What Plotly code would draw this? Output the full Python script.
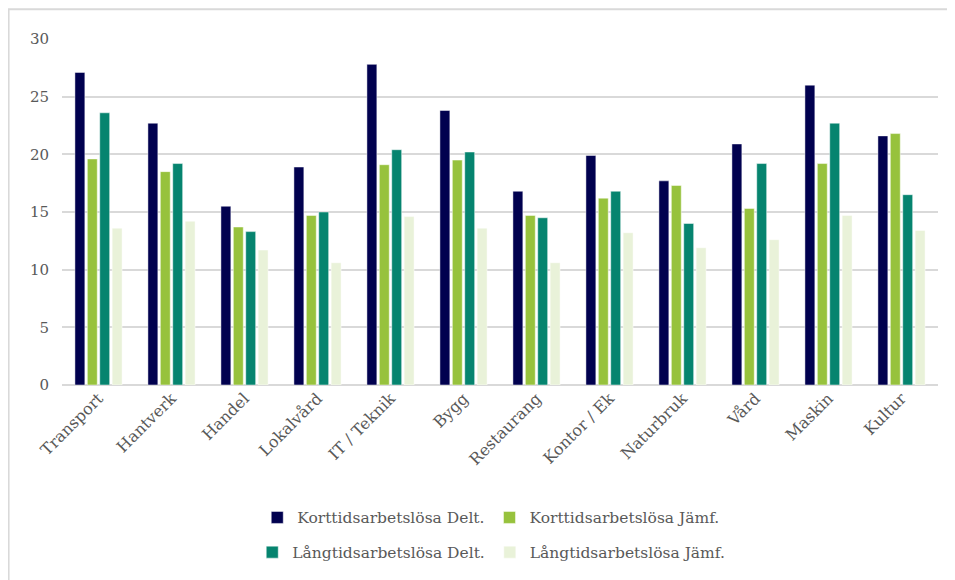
import plotly.graph_objects as go

categories = ["Transport", "Hantverk", "Handel", "Lokalvård", "IT / Teknik", "Bygg",
              "Restaurang", "Kontor / Ek", "Naturbruk", "Vård", "Maskin", "Kultur"]
kort_delt = [27.1, 22.7, 15.5, 18.9, 27.8, 23.8, 16.8, 19.9, 17.7, 20.9, 26.0, 21.6]
kort_jamf = [19.6, 18.5, 13.7, 14.7, 19.1, 19.5, 14.7, 16.2, 17.3, 15.3, 19.2, 21.8]
lang_delt = [23.6, 19.2, 13.3, 15.0, 20.4, 20.2, 14.5, 16.8, 14.0, 19.2, 22.7, 16.5]
lang_jamf = [13.6, 14.2, 11.7, 10.6, 14.6, 13.6, 10.6, 13.2, 11.9, 12.6, 14.7, 13.4]
y_ticks = [0, 5, 10, 15, 20, 25, 30]

series = [
    ("Korttidsarbetslösa Delt.", kort_delt, "#01014f", "legend"),
    ("Korttidsarbetslösa Jämf.", kort_jamf, "#97c23d", "legend"),
    ("Långtidsarbetslösa Delt.", lang_delt, "#06846f", "legend2"),
    ("Långtidsarbetslösa Jämf.", lang_jamf, "#e9f2d9", "legend2"),
]

FONT = "DejaVu Serif"
fig = go.Figure()
for name, vals, col, lg in series:
    fig.add_trace(go.Bar(
        x=categories, y=vals, name=name, legend=lg,
        marker=dict(color=col, line=dict(color="rgba(255,255,255,0.6)", width=0.8)),
    ))

fig.update_layout(
    width=947, height=572,
    paper_bgcolor="white", plot_bgcolor="white",
    margin=dict(l=54, r=17, t=31, b=194),
    barmode="group", bargap=0.32, bargroupgap=0.2,
    font=dict(family=FONT, color="#595959", size=14),
    showlegend=True,
    legend=dict(orientation="h", x=0.49, xanchor="center", y=-0.38, yanchor="middle",
                font=dict(family=FONT, size=15.5, color="#595959"),
                itemwidth=30, traceorder="normal"),
    legend2=dict(orientation="h", x=0.49, xanchor="center", y=-0.48, yanchor="middle",
                 font=dict(family=FONT, size=15.5, color="#595959"),
                 itemwidth=30, traceorder="normal"),
    xaxis=dict(tickangle=-45, showgrid=False, showline=False, ticks="",
               tickfont=dict(family=FONT, size=16, color="#595959")),
    yaxis=dict(range=[0, 30], tickvals=y_ticks, showgrid=True, gridcolor="#d9d9d9",
               gridwidth=1.5, zeroline=True, zerolinecolor="#d9d9d9", zerolinewidth=1.5,
               showline=False, ticks="", ticklen=0, ticklabelstandoff=12,
               tickfont=dict(family=FONT, size=15, color="#595959")),
    shapes=[dict(type="rect", xref="paper", yref="paper",
                 x0=-0.061, x1=1.03, y0=-0.6, y1=1.086,
                 line=dict(color="#d9d9d9", width=2), fillcolor="rgba(0,0,0,0)", layer="below")],
)

fig.write_html("out.html")
